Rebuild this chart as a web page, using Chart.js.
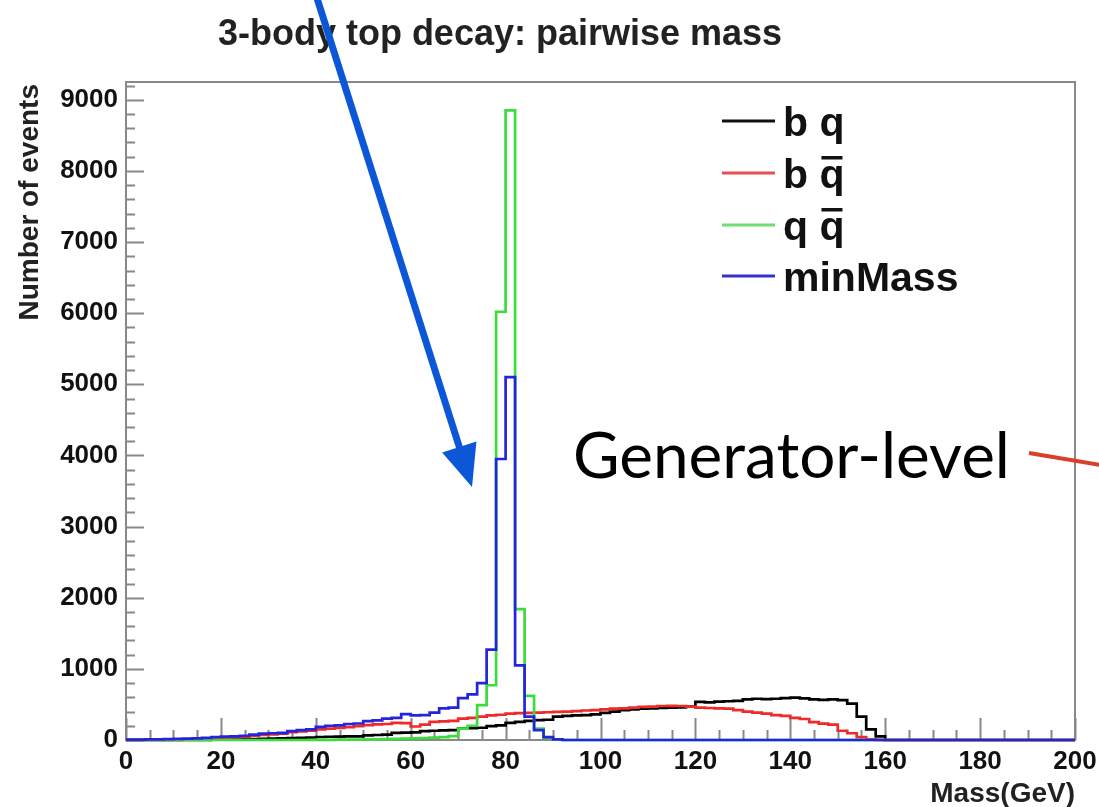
<!DOCTYPE html>
<html>
<head>
<meta charset="utf-8">
<script src="https://cdn.jsdelivr.net/npm/chart.js@4.4.1/dist/chart.umd.min.js"></script>
<style>
  html, body { margin: 0; padding: 0; background: #fff; }
  #wrap { width: 1099px; height: 807px; }
</style>
</head>
<body>
<div id="wrap"><canvas id="massChart" width="1099" height="807"></canvas></div>
<script>
// Histogramas de 2 GeV entre 0 y 200 GeV (borde inferior de cada bin)
const binLow = Array.from({ length: 100 }, (_, i) => i * 2);
const xTicks = [0, 20, 40, 60, 80, 100, 120, 140, 160, 180, 200];
const yTicks = [0, 1000, 2000, 3000, 4000, 5000, 6000, 7000, 8000, 9000];

// b q  (negro)
const bq = [
  0, 0, 0, 0, 0, 1, 1, 2, 3, 4,
  6, 8, 10, 12, 15, 18, 22, 26, 30, 35,
  42, 46, 48, 50, 52, 65, 70, 75, 100, 105,
  108, 125, 130, 135, 140, 160, 165, 172, 195, 205,
  240, 255, 270, 280, 285, 330, 340, 345, 350, 360,
  380, 400, 420, 430, 440, 445, 450, 455, 460, 470,
  535, 530, 540, 545, 550, 570, 580, 575, 580, 590,
  595, 585, 570, 565, 570, 560, 510, 330, 150, 50,
  0, 0, 0, 0, 0, 0, 0, 0, 0, 0,
  0, 0, 0, 0, 0, 0, 0, 0, 0, 0
];
// b qbar (rojo)
const bqbar = [
  0, 0, 0, 1, 2, 3, 5, 8, 12, 18,
  25, 35, 45, 60, 70, 78, 90, 110, 120, 130,
  150, 160, 170, 180, 195, 210, 220, 225, 240, 238,
  190, 215, 255, 262, 270, 300, 310, 330, 345, 355,
  370, 378, 380, 385, 390, 395, 400, 405, 415, 420,
  430, 440, 445, 455, 465, 470, 478, 480, 478, 470,
  455, 450, 445, 440, 420, 400, 385, 370, 350, 340,
  310, 295, 250, 230, 215, 130, 95, 40, 10, 2,
  0, 0, 0, 0, 0, 0, 0, 0, 0, 0,
  0, 0, 0, 0, 0, 0, 0, 0, 0, 0
];
// q qbar (verde)
const qqbar = [
  0, 0, 0, 0, 0, 0, 0, 0, 0, 0,
  0, 0, 0, 0, 0, 0, 0, 0, 0, 0,
  2, 3, 4, 5, 6, 8, 10, 12, 15, 18,
  22, 28, 32, 40, 55, 160, 200, 490, 770, 6020,
  8850, 1840, 620, 160, 30, 5, 0, 0, 0, 0,
  0, 0, 0, 0, 0, 0, 0, 0, 0, 0,
  0, 0, 0, 0, 0, 0, 0, 0, 0, 0,
  0, 0, 0, 0, 0, 0, 0, 0, 0, 0,
  0, 0, 0, 0, 0, 0, 0, 0, 0, 0,
  0, 0, 0, 0, 0, 0, 0, 0, 0, 0
];
// minMass (azul)
const minMass = [
  5, 6, 8, 10, 12, 15, 18, 22, 30, 42,
  48, 52, 60, 75, 90, 95, 100, 125, 140, 150,
  185, 200, 205, 225, 232, 265, 275, 300, 312, 365,
  345, 350, 385, 445, 455, 590, 640, 800, 1270, 3950,
  5100, 1050, 330, 140, 40, 10, 0, 0, 0, 0,
  0, 0, 0, 0, 0, 0, 0, 0, 0, 0,
  0, 0, 0, 0, 0, 0, 0, 0, 0, 0,
  0, 0, 0, 0, 0, 0, 0, 0, 0, 0,
  0, 0, 0, 0, 0, 0, 0, 0, 0, 0,
  0, 0, 0, 0, 0, 0, 0, 0, 0, 0
];

const FONT = "'Liberation Sans', Arial, sans-serif";

// convierte los contenidos de los bins en puntos escalonados
function toSteps(values) {
    const pts = values.map((v, i) => ({ x: binLow[i], y: v }));
    pts.push({ x: 200, y: values[values.length - 1] });
    return pts;
}

function histo(label, values, color, order) {
    return {
        label: label,
        data: toSteps(values),
        borderColor: color,
        borderWidth: 2.7,
        pointRadius: 0,
        stepped: 'before', // el valor se mantiene hasta el siguiente borde
        fill: false,
        clip: 4,
        order: order
    };
}

// marco y marcas de los ejes al estilo ROOT
const framePlugin = {
    id: 'frame',
    beforeDatasetsDraw(chart) {
        const { ctx, chartArea: a, scales: { x, y } } = chart;
        ctx.save();
        ctx.strokeStyle = '#888';
        ctx.lineWidth = 2;
        ctx.strokeRect(a.left, a.top, a.right - a.left, a.bottom - a.top);

        ctx.beginPath();
        for (let v = 0; v <= y.max; v += 200) {
            const py = Math.round(y.getPixelForValue(v)) + 0.5;
            const len = v % 1000 === 0 ? 18 : 9;
            ctx.moveTo(a.left, py);
            ctx.lineTo(a.left + len, py);
        }
        for (let v = 0; v <= 200; v += 5) {
            const px = Math.round(x.getPixelForValue(v)) + 0.5;
            const len = v % 20 === 0 ? 22 : 10;
            ctx.moveTo(px, a.bottom);
            ctx.lineTo(px, a.bottom - len);
        }
        ctx.stroke();
        ctx.restore();
    },
    afterDraw(chart) {
        const ctx = chart.ctx;
        ctx.save();

        // título
        ctx.fillStyle = '#222';
        ctx.font = `bold 36px ${FONT}`;
        ctx.textAlign = 'center';
        ctx.textBaseline = 'alphabetic';
        ctx.fillText('3-body top decay: pairwise mass', 500, 45);

        // títulos de los ejes
        ctx.font = `bold 28px ${FONT}`;
        ctx.textAlign = 'right';
        ctx.fillText('Mass(GeV)', 1075, 802);

        ctx.save();
        ctx.translate(30, 84);
        ctx.rotate(-Math.PI / 2);
        ctx.textAlign = 'right';
        ctx.textBaseline = 'middle';
        ctx.fillText('Number of events', 0, 0);
        ctx.restore();

        // leyenda
        const items = [
            { base: 'b ', q: 'q', bar: false, color: '#111', y: 121 },
            { base: 'b ', q: 'q', bar: true, color: '#e85050', y: 173 },
            { base: 'q ', q: 'q', bar: true, color: '#70dd70', y: 225 },
            { base: 'minMass', q: '', bar: false, color: '#3333cc', y: 276 }
        ];
        ctx.font = `bold 41px ${FONT}`;
        ctx.textAlign = 'left';
        ctx.textBaseline = 'alphabetic';
        items.forEach(it => {
            ctx.strokeStyle = it.color;
            ctx.lineWidth = 3;
            ctx.beginPath();
            ctx.moveTo(722, it.y);
            ctx.lineTo(775, it.y);
            ctx.stroke();
            const tx = 783, base = it.y + 15;
            ctx.fillStyle = '#111';
            ctx.fillText(it.base + it.q, tx, base);
            if (it.bar) {
                const w0 = ctx.measureText(it.base).width;
                const wq = ctx.measureText(it.q).width;
                ctx.fillRect(tx + w0 + 2, base - 32, wq - 4, 3.5);
            }
        });

        // flecha azul
        const tip = [472, 487], from = [316, -5];
        const dx = tip[0] - from[0], dy = tip[1] - from[1];
        const L = Math.hypot(dx, dy), ux = dx / L, uy = dy / L;
        const bx = tip[0] - 42 * ux, by = tip[1] - 42 * uy;
        ctx.strokeStyle = '#0b57d8';
        ctx.fillStyle = '#0b57d8';
        ctx.lineWidth = 7;
        ctx.beginPath();
        ctx.moveTo(from[0], from[1]);
        ctx.lineTo(bx + 4 * ux, by + 4 * uy);
        ctx.stroke();
        ctx.beginPath();
        ctx.moveTo(tip[0], tip[1]);
        ctx.lineTo(bx - 18 * uy, by + 18 * ux);
        ctx.lineTo(bx + 18 * uy, by - 18 * ux);
        ctx.closePath();
        ctx.fill();

        // anotación
        ctx.fillStyle = '#000';
        let size = 56;
        ctx.font = `${size}px Lato, 'Open Sans', sans-serif`;
        size = size * 437 / ctx.measureText('Generator-level').width;
        ctx.font = `${size}px Lato, 'Open Sans', sans-serif`;
        ctx.fillText('Generator-level', 573, 478);

        ctx.strokeStyle = '#d8402a';
        ctx.lineWidth = 4;
        ctx.beginPath();
        ctx.moveTo(1029, 453);
        ctx.lineTo(1100, 465);
        ctx.stroke();

        ctx.restore();
    }
};

new Chart(document.getElementById('massChart'), {
    type: 'line',
    data: {
        datasets: [
            histo('b q', bq, '#000000', 3),
            histo('b q\u0304', bqbar, '#ee2a2a', 2),
            histo('q q\u0304', qqbar, '#3ddc3d', 1),
            histo('minMass', minMass, '#2424dd', 0)
        ]
    },
    options: {
        responsive: false,
        animation: false,
        devicePixelRatio: 1,
        layout: { padding: { left: 0, top: 82, right: 24, bottom: 0 } },
        plugins: {
            legend: { display: false },
            tooltip: { enabled: false }
        },
        scales: {
            x: {
                type: 'linear',
                min: 0,
                max: 200,
                grid: { display: false, drawTicks: false },
                border: { display: false },
                afterBuildTicks: (s) => { s.ticks = xTicks.map(v => ({ value: v })); },
                afterFit: (s) => { s.height = 67; s.paddingRight = 0; },
                ticks: {
                    padding: 6,
                    color: '#111',
                    maxRotation: 0,
                    callback: (v) => String(v),
                    font: { family: FONT, size: 26, weight: 'bold' }
                }
            },
            y: {
                type: 'linear',
                min: 0,
                max: 9250,
                grid: { display: false, drawTicks: false },
                border: { display: false },
                afterBuildTicks: (s) => { s.ticks = yTicks.map(v => ({ value: v })); },
                afterFit: (s) => { s.width = 126; },
                ticks: {
                    padding: 8,
                    color: '#111',
                    callback: (v) => String(v),
                    font: { family: FONT, size: 26, weight: 'bold' }
                }
            }
        }
    },
    plugins: [framePlugin]
});
</script>
</body>
</html>
